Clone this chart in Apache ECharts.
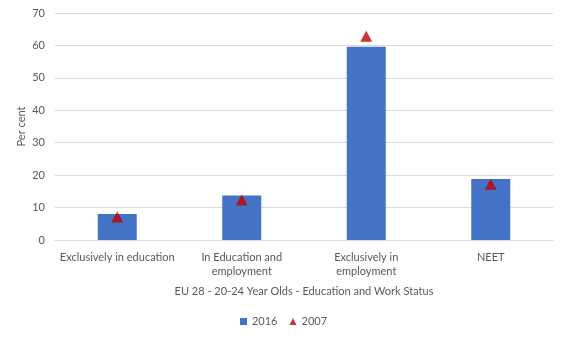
<!DOCTYPE html>
<html>
<head>
<meta charset="utf-8">
<script src="https://cdn.jsdelivr.net/npm/echarts@6/dist/echarts.min.js"></script>
<style>
  html, body { margin: 0; padding: 0; background: #fff; }
  #chart { width: 567px; height: 340px; }
</style>
</head>
<body>
<div id="chart"></div>
<script>
// Education and work status of 20-24 year olds, EU 28 (per cent)
const categories = [
  'Exclusively in education',
  'In Education and\nemployment',
  'Exclusively in\nemployment',
  'NEET'
];
const values2016 = [8.0, 13.7, 59.6, 18.8];
const values2007 = [7.1, 12.3, 62.8, 17.2];
const yTicks = [0, 10, 20, 30, 40, 50, 60, 70];

const FONT = 'Lato';
const TEXT = '#595959';

const chart = echarts.init(document.getElementById('chart'), null, { renderer: 'canvas' });
chart.setOption({
  animation: false,
  textStyle: { fontFamily: FONT },
  grid: { left: 55, right: 14, top: 13, bottom: 100 },
  legend: {
    bottom: 8,
    left: 'center',
    itemWidth: 7,
    itemHeight: 7,
    itemGap: 12,
    textStyle: { fontFamily: FONT, fontSize: 11, color: TEXT },
    data: [
      { name: '2016', icon: 'rect' },
      { name: '2007', icon: 'triangle' }
    ]
  },
  xAxis: {
    type: 'category',
    data: categories,
    name: 'EU 28 - 20-24 Year Olds - Education and Work Status',
    nameLocation: 'middle',
    nameGap: 46,
    nameMoveOverlap: false,
    nameTextStyle: { fontFamily: FONT, fontSize: 11, color: TEXT },
    axisLine: { show: true, lineStyle: { color: '#d9d9d9' } },
    axisTick: { show: false },
    axisLabel: { interval: 0, fontFamily: FONT, fontSize: 11, color: TEXT, lineHeight: 14, margin: 10 },
  },
  yAxis: {
    type: 'value',
    min: yTicks[0],
    max: yTicks[yTicks.length - 1],
    interval: 10,
    name: 'Per cent',
    nameLocation: 'middle',
    nameGap: 28,
    nameMoveOverlap: false,
    nameRotate: 90,
    nameTextStyle: { fontFamily: FONT, fontSize: 11, color: TEXT },
    axisLine: { show: false },
    axisTick: { show: false },
    axisLabel: { fontFamily: FONT, fontSize: 11, color: TEXT, margin: 10 },
    splitLine: { lineStyle: { color: '#d9d9d9' } }
  },
  series: [
    {
      name: '2016',
      type: 'bar',
      data: values2016,
      barWidth: 39,
      itemStyle: { color: '#4472C4' }
    },
    {
      name: '2007',
      type: 'scatter',
      data: values2007,
      symbol: 'triangle',
      symbolSize: [12, 11],
      itemStyle: { color: '#C00000' },
      z: 3
    }
  ]
});
</script>
</body>
</html>
